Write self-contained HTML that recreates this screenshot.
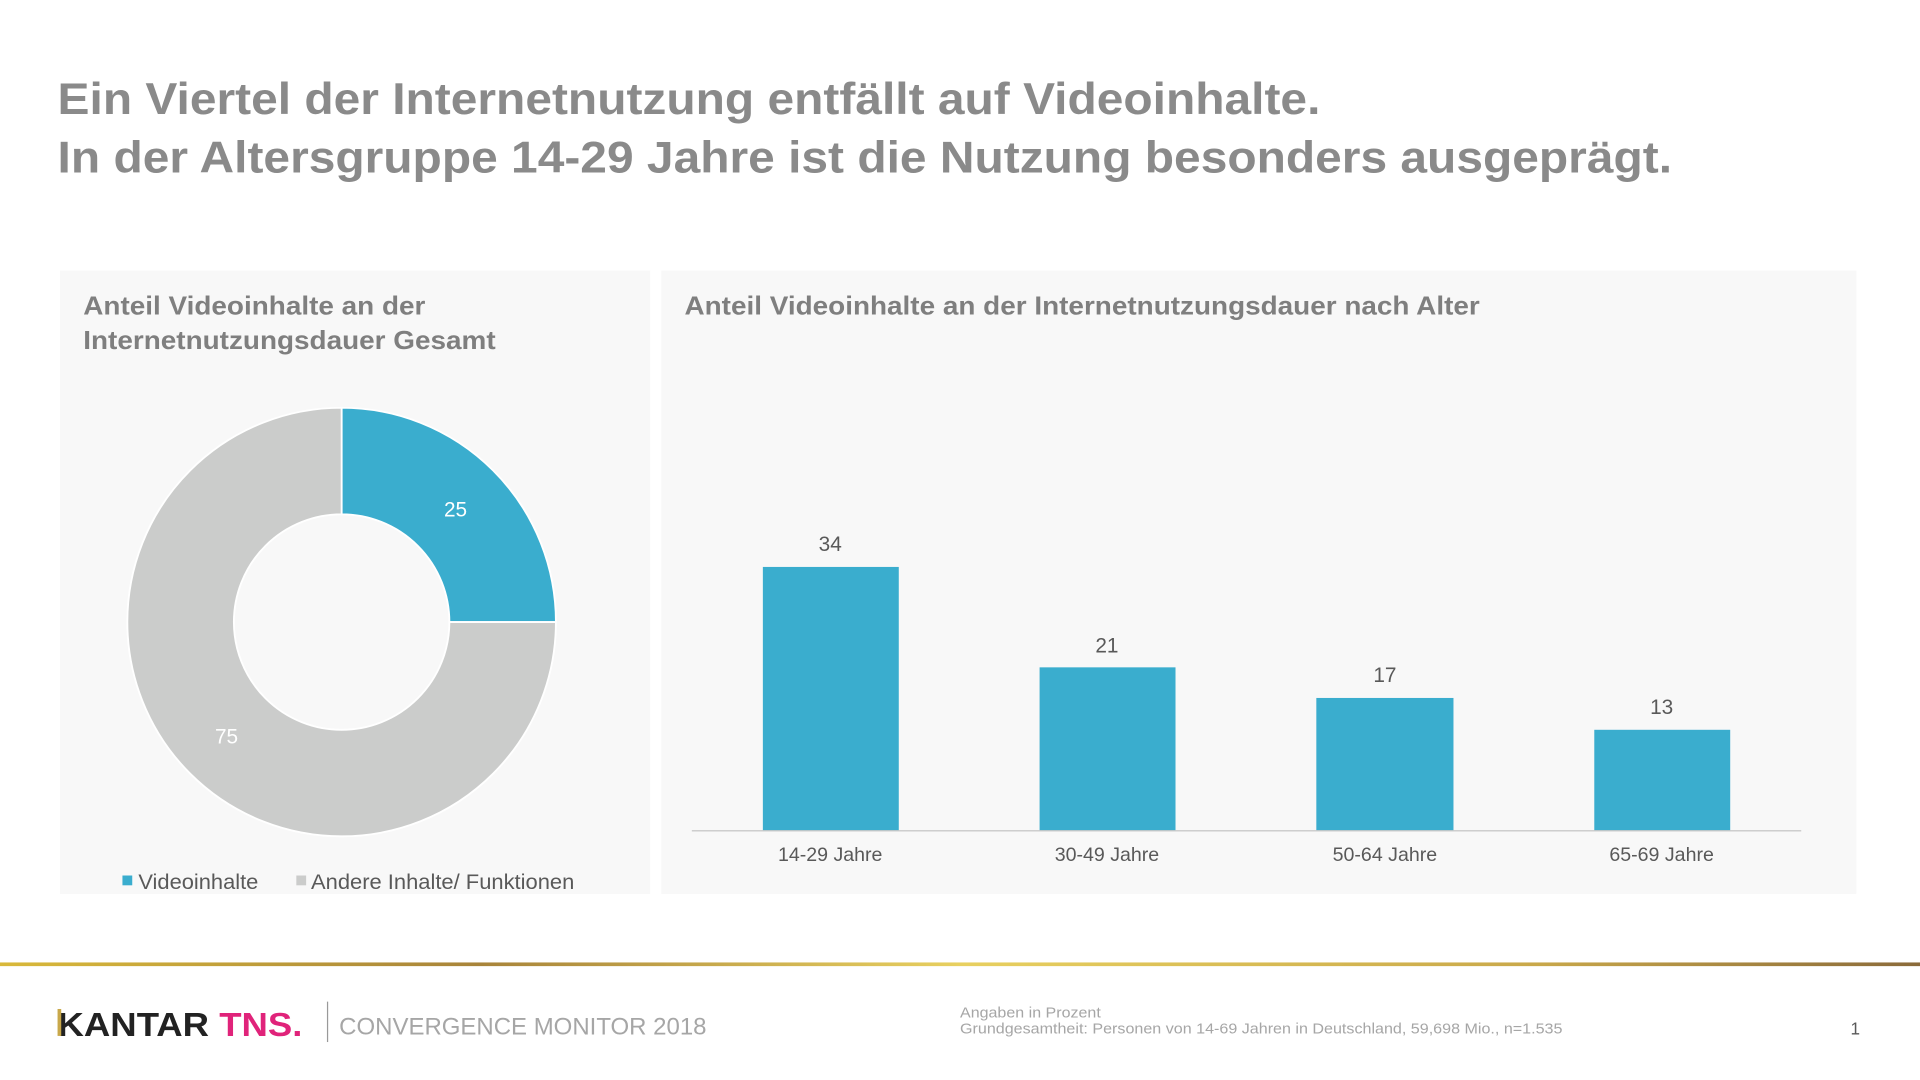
<!DOCTYPE html>
<html><head><meta charset="utf-8"><style>
html,body{margin:0;padding:0;background:#fff;width:1920px;height:1080px;overflow:hidden}
#s{position:absolute;left:0;top:0;width:1568px;height:882px;transform:scale(1.22449);transform-origin:0 0;font-family:"Liberation Sans",Arial,sans-serif}
.a{position:absolute;white-space:nowrap}
</style></head><body><div id="s">
<div class="a" style="left:47px;top:57px;font-size:36px;font-weight:bold;color:#8a8a8a;line-height:48px;transform:scaleX(1.087);transform-origin:0 0">Ein Viertel der Internetnutzung entfällt auf Videoinhalte.<br>In der Altersgruppe 14-29 Jahre ist die Nutzung besonders ausgeprägt.</div>
<div class="a" style="left:49px;top:221px;width:482px;height:509px;background:#f8f8f8"></div>
<div class="a" style="left:540px;top:221px;width:976px;height:509px;background:#f8f8f8"></div>
<div class="a" style="left:68px;top:237px;font-size:21px;font-weight:bold;color:#7f7f7f;line-height:28px;transform:scaleX(1.085);transform-origin:0 0">Anteil Videoinhalte an der<br>Internetnutzungsdauer Gesamt</div>
<div class="a" style="left:559px;top:237px;font-size:21px;font-weight:bold;color:#7f7f7f;line-height:28px;transform:scaleX(1.085);transform-origin:0 0">Anteil Videoinhalte an der Internetnutzungsdauer nach Alter</div>
<svg class="a" style="left:0;top:0" width="1568" height="882" font-family="Liberation Sans,Arial,sans-serif">
<path d="M279,333 A175,175 0 0 1 454,508 L367,508 A88,88 0 0 0 279,420 Z" fill="#3aadce" stroke="#fff" stroke-width="1.5"/>
<path d="M454,508 A175,175 0 1 1 279,333 L279,420 A88,88 0 1 0 367,508 Z" fill="#cbcccb" stroke="#fff" stroke-width="1.5"/>
<text x="372" y="422" fill="#fff" font-size="17" text-anchor="middle">25</text>
<text x="185" y="607" fill="#fff" font-size="17" text-anchor="middle">75</text>
<rect x="100" y="715" width="8" height="8" fill="#3aadce"/>
<text x="113" y="726" fill="#595959" font-size="17" textLength="98" lengthAdjust="spacingAndGlyphs">Videoinhalte</text>
<rect x="242" y="715" width="8" height="8" fill="#cbcccb"/>
<text x="254" y="726" fill="#595959" font-size="17" textLength="215" lengthAdjust="spacingAndGlyphs">Andere Inhalte/ Funktionen</text>
<g fill="#3aadce">
<rect x="623" y="463" width="111" height="215"/>
<rect x="849" y="545" width="111" height="133"/>
<rect x="1075" y="570" width="112" height="108"/>
<rect x="1302" y="596" width="111" height="82"/>
</g>
<line x1="565" y1="678.5" x2="1471" y2="678.5" stroke="#bfbfbf" stroke-width="1"/>
<g fill="#595959" font-size="17" text-anchor="middle">
<text x="678" y="450">34</text><text x="904" y="533">21</text><text x="1131" y="557">17</text><text x="1357" y="583">13</text>
</g>
<g fill="#595959" font-size="16" text-anchor="middle">
<text x="678" y="703">14-29 Jahre</text><text x="904" y="703">30-49 Jahre</text><text x="1131" y="703">50-64 Jahre</text><text x="1357" y="703">65-69 Jahre</text>
</g>
<defs><linearGradient id="g" x1="0" x2="1"><stop offset="0" stop-color="#d9b93a"/><stop offset="0.25" stop-color="#a8843a"/><stop offset="0.5" stop-color="#e8d060"/><stop offset="0.8" stop-color="#c9a84a"/><stop offset="1" stop-color="#8a6a3a"/></linearGradient></defs>
<rect x="0" y="786" width="1568" height="3" fill="url(#g)"/>
<text x="47" y="846" font-size="27" font-weight="bold" fill="#222" textLength="200" lengthAdjust="spacingAndGlyphs">KANTAR <tspan fill="#e0237a">TNS.</tspan></text>
<rect x="47" y="824" width="3" height="22" fill="#c9a84a"/>
<line x1="267.5" y1="818" x2="267.5" y2="851" stroke="#999"/>
<text x="277" y="845" font-size="20" fill="#a6a6a6" textLength="300" lengthAdjust="spacingAndGlyphs">CONVERGENCE MONITOR 2018</text>
<text x="784" y="831" font-size="12" fill="#a6a6a6" textLength="115" lengthAdjust="spacingAndGlyphs">Angaben in Prozent</text>
<text x="784" y="844" font-size="12" fill="#a6a6a6" textLength="492" lengthAdjust="spacingAndGlyphs">Grundgesamtheit: Personen von 14-69 Jahren in Deutschland, 59,698 Mio., n=1.535</text>
<text x="1519" y="845" font-size="14" fill="#595959" text-anchor="end">1</text>
</svg>
</div></body></html>
